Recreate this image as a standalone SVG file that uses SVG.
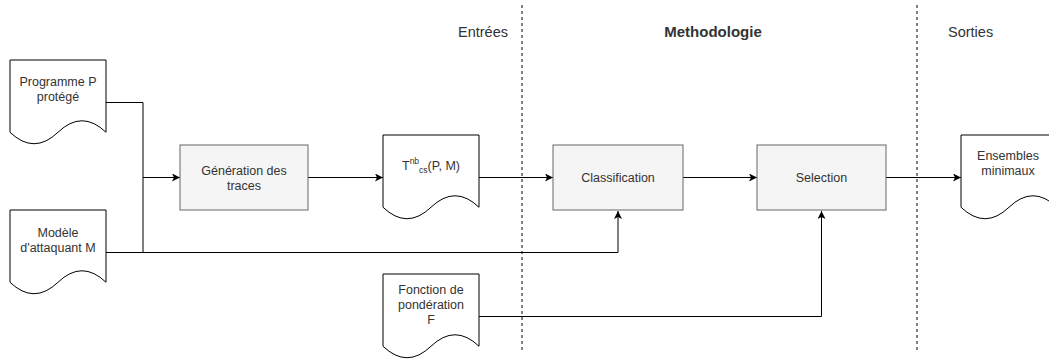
<svg xmlns="http://www.w3.org/2000/svg" width="1049" height="359" viewBox="0 0 1049 359">
<style>
text{font-family:"Liberation Sans",Arial,sans-serif;font-size:12.5px;fill:#333;text-anchor:middle}
.hdr{font-size:14.5px}
.doc{fill:#fff;stroke:#000;stroke-width:1}
.box{fill:#f5f5f5;stroke:#666;stroke-width:1}
.edge{fill:none;stroke:#000;stroke-width:1}
.sep{fill:none;stroke:#000;stroke-width:1;stroke-dasharray:3 3}
</style>
<defs>
<marker id="arr" markerUnits="userSpaceOnUse" markerWidth="10" markerHeight="10" refX="8" refY="4" orient="auto">
<path d="M0,0 L8,4 L0,8 L2,4 Z" fill="#000"/>
</marker>
<path id="docshape" d="M0,0 H96 V72.25 Q72,49.3 48,72.25 Q24,95.2 0,72.25 Z"/>
</defs>

<g id="separators">
<line class="sep" x1="522" y1="5" x2="522" y2="350"/>
<line class="sep" x1="917" y1="5" x2="917" y2="350"/>
</g>

<g id="headers">
<text class="hdr" x="508" y="37" style="text-anchor:end">Entrées</text>
<text class="hdr" x="713" y="37" style="font-weight:bold;font-size:15px">Methodologie</text>
<text class="hdr" x="948" y="37" style="text-anchor:start">Sorties</text>
</g>

<g id="connectors">
<path class="edge" d="M106,102.5 H143 V252.5"/>
<path class="edge" d="M106,252.5 H618 V211" marker-end="url(#arr)"/>
<path class="edge" d="M143,177.5 H180" marker-end="url(#arr)"/>
<path class="edge" d="M308,177.5 H383" marker-end="url(#arr)"/>
<path class="edge" d="M479,177.5 H553" marker-end="url(#arr)"/>
<path class="edge" d="M683,177.5 H757" marker-end="url(#arr)"/>
<path class="edge" d="M886,177.5 H961" marker-end="url(#arr)"/>
<path class="edge" d="M479,316.5 H821.5 V211" marker-end="url(#arr)"/>
</g>

<g id="programme">
<use href="#docshape" class="doc" transform="translate(10,60)"/>
<text x="58" y="86">Programme P</text>
<text x="58" y="101">protégé</text>
</g>

<g id="modele">
<use href="#docshape" class="doc" transform="translate(10,210)"/>
<text x="58" y="237">Modèle</text>
<text x="58" y="252">d'attaquant M</text>
</g>

<g id="generation">
<rect class="box" x="180" y="145" width="128" height="65"/>
<text x="244" y="174.5">Génération des</text>
<text x="244" y="189.5">traces</text>
</g>

<g id="traces">
<use href="#docshape" class="doc" transform="translate(383,135)"/>
<text x="431" y="169.5">T<tspan font-size="8.5" dy="-6">nb</tspan><tspan font-size="8.5" dy="9">cs</tspan><tspan dy="-3">(P, M)</tspan></text>
</g>

<g id="classification">
<rect class="box" x="553" y="145" width="130" height="65"/>
<text x="618" y="182">Classification</text>
</g>

<g id="selection">
<rect class="box" x="757" y="145" width="129" height="65"/>
<text x="821.5" y="182">Selection</text>
</g>

<g id="fonction">
<use href="#docshape" class="doc" transform="translate(383,274)"/>
<text x="431" y="293.5">Fonction de</text>
<text x="431" y="308.5">pondération</text>
<text x="431" y="323.5">F</text>
</g>

<g id="ensembles">
<use href="#docshape" class="doc" transform="translate(961,135)"/>
<text x="1008" y="160">Ensembles</text>
<text x="1008" y="175">minimaux</text>
</g>
</svg>
